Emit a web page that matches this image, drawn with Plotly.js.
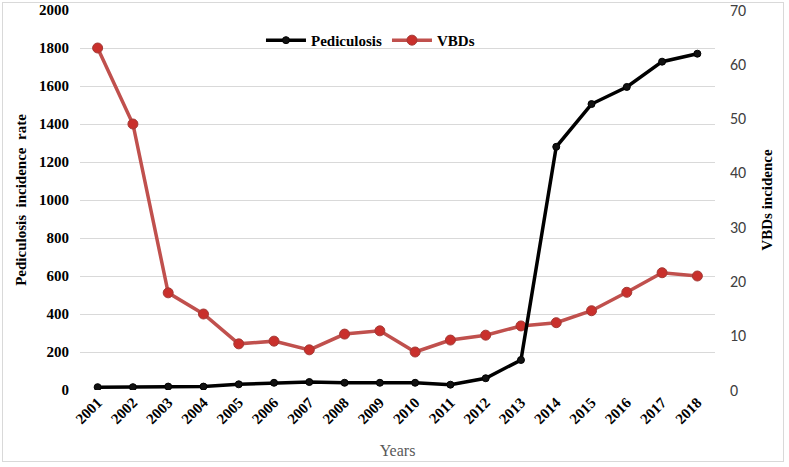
<!DOCTYPE html>
<html>
<head>
<meta charset="utf-8">
<script src="https://cdn.plot.ly/plotly-3.0.1.min.js"></script>
<style>
html,body{margin:0;padding:0;background:#fff;}
#wrap{position:absolute;left:2px;top:2px;width:782px;height:460px;border:1px solid #d9d9d9;box-sizing:border-box;}
#chart{position:absolute;left:0;top:0;width:789px;height:467px;}
</style>
</head>
<body>
<div id="wrap"></div>
<div id="chart"></div>
<script>
const years = ["2001","2002","2003","2004","2005","2006","2007","2008","2009","2010","2011","2012","2013","2014","2015","2016","2017","2018"];
const pediculosis = [15,15,18,18,30,38,42,38,38,38,28,62,158,1280,1505,1595,1728,1770];
const vbds = [63,49,17.9,14,8.5,9,7.4,10.3,10.9,7,9.2,10.1,11.8,12.4,14.6,18,21.6,21];

const serif = "Liberation Serif, Times New Roman, serif";
const sans = "Carlito, Liberation Sans, Arial, sans-serif";

const traces = [
  {
    x: years, y: pediculosis, name: "Pediculosis", yaxis: "y2", type: "scatter", mode: "lines+markers",
    line: {color: "#000000", width: 3.5},
    marker: {color: "#111111", size: 7, line: {color: "#000", width: 1}}
  },
  {
    x: years, y: vbds, name: "VBDs", yaxis: "y", type: "scatter", mode: "lines+markers",
    line: {color: "#c0504d", width: 3.5},
    marker: {color: "#c9302c", size: 10, line: {color: "#a33a36", width: 1}}
  }
];

const layout = {
  width: 789, height: 467,
  margin: {l: 80, r: 74, t: 10, b: 77},
  paper_bgcolor: "rgba(0,0,0,0)",
  plot_bgcolor: "rgba(0,0,0,0)",
  showlegend: true,
  legend: {
    orientation: "h", x: 0.285, y: 0.92, xanchor: "left", yanchor: "middle",
    font: {family: serif, size: 15, color: "#000", weight: "bold"}, bgcolor: "rgba(0,0,0,0)",
    traceorder: "normal", itemwidth: 40
  },
  xaxis: {
    type: "category", range: [-0.5, 17.5],
    tickangle: -45, showgrid: false, zeroline: false, showline: false,
    ticks: "", tickfont: {family: serif, size: 15, color: "#000", weight: "bold"},
    title: {text: "Years", font: {family: serif, size: 16, color: "#595959"}, standoff: 18}
  },
  yaxis: {
    side: "right", range: [0, 70], dtick: 10, showgrid: false, zeroline: false, showline: false,
    ticks: "", ticklabelstandoff: 14,
    tickfont: {family: sans, size: 16, color: "#404040"},
    title: {text: "VBDs incidence", font: {family: serif, size: 15, color: "#000", weight: "bold"}, standoff: 16}
  },
  yaxis2: {
    overlaying: "y", side: "left", range: [0, 2000], dtick: 200,
    showgrid: true, gridcolor: "#d9d9d9", gridwidth: 1, zeroline: false, showline: false,
    ticks: "", ticklabelstandoff: 10,
    tickfont: {family: serif, size: 15, color: "#000", weight: "bold"},
    title: {text: "Pediculosis  incidence  rate", font: {family: serif, size: 15, color: "#000", weight: "bold"}, standoff: 8}
  }
};

Plotly.newPlot("chart", traces, layout, {displayModeBar: false, staticPlot: true});
</script>
</body>
</html>
